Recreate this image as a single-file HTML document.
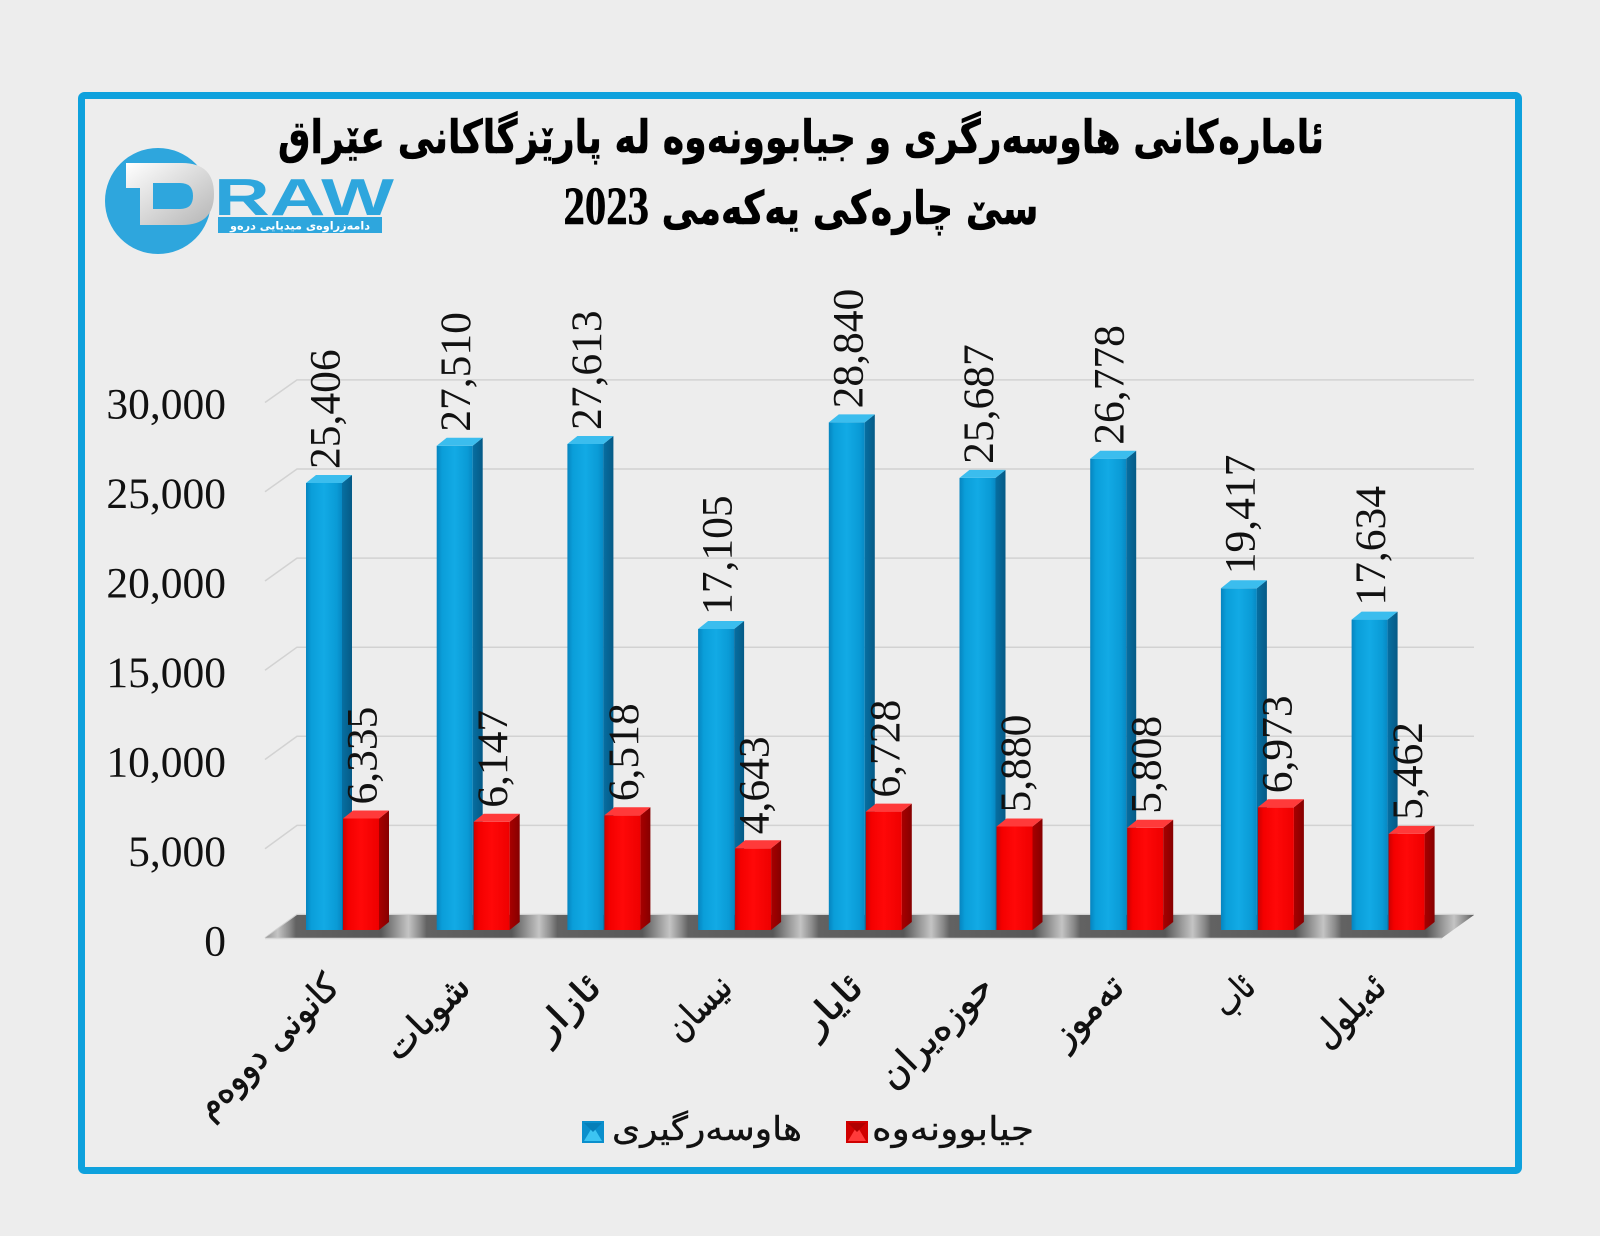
<!DOCTYPE html>
<html><head><meta charset="utf-8"><style>
html,body{margin:0;padding:0;background:#ededed;}
svg{display:block;}
</style></head><body>
<svg width="1600" height="1236" viewBox="0 0 1600 1236" xmlns="http://www.w3.org/2000/svg">
<defs>
<linearGradient id="bF" x1="0" x2="1" y1="0" y2="0"><stop offset="0" stop-color="#0684bf"/><stop offset="0.15" stop-color="#0a9ed9"/><stop offset="0.5" stop-color="#12aae5"/><stop offset="0.85" stop-color="#0a9bd6"/><stop offset="1" stop-color="#0788c3"/></linearGradient>
<linearGradient id="bS" x1="0" x2="1" y1="0" y2="0"><stop offset="0" stop-color="#076fa2"/><stop offset="1" stop-color="#055a86"/></linearGradient>
<linearGradient id="rF" x1="0" x2="1" y1="0" y2="0"><stop offset="0" stop-color="#cc0000"/><stop offset="0.15" stop-color="#f40000"/><stop offset="0.5" stop-color="#ff0808"/><stop offset="1" stop-color="#ee0000"/></linearGradient>
<linearGradient id="rS" x1="0" x2="1" y1="0" y2="0"><stop offset="0" stop-color="#a80000"/><stop offset="1" stop-color="#860000"/></linearGradient>
<linearGradient id="fl" gradientUnits="userSpaceOnUse" x1="296" y1="0" x2="426.7" y2="0" spreadMethod="repeat">
<stop offset="0" stop-color="#626262"/><stop offset="0.65" stop-color="#575757"/><stop offset="0.78" stop-color="#9c9c9c"/><stop offset="0.86" stop-color="#c4c4c4"/><stop offset="0.95" stop-color="#8a8a8a"/><stop offset="1" stop-color="#626262"/></linearGradient>
<linearGradient id="dG" x1="0" x2="1" y1="0" y2="1"><stop offset="0" stop-color="#ffffff"/><stop offset="1" stop-color="#b5b5b5"/></linearGradient>
</defs>
<rect width="1600" height="1236" fill="#ededed"/>
<rect x="81.5" y="95.5" width="1437" height="1075" rx="3" fill="#ededed" stroke="#0ea1dd" stroke-width="7"/>

<!-- logo -->
<circle cx="158" cy="201" r="53" fill="#2ea6dd"/>
<path d="M126,163 H182 Q214,163 214,194 Q214,225 182,225 H140 V188 H126 Z" fill="url(#dG)"/>
<path d="M153,183 H180 Q193,183 193,196 Q193,209 180,209 H153 Z" fill="#2ea6dd"/>
<text x="214" y="215" font-family="Liberation Sans" font-weight="bold" font-size="52" fill="#2ea6dd" textLength="180" lengthAdjust="spacingAndGlyphs">RAW</text>
<rect x="218" y="217" width="164" height="16" fill="#2ea6dd"/>
<text x="300" y="229.5" text-anchor="middle" font-family="DejaVu Sans" font-weight="bold" font-size="11" fill="#ffffff" textLength="140" lengthAdjust="spacingAndGlyphs">دامەزراوەی میدیایی درەو</text>

<!-- title -->
<text x="801" y="153" text-anchor="middle" font-family="DejaVu Sans" font-weight="bold" font-size="46" fill="#000" stroke="#000" stroke-width="0.6" textLength="1046" lengthAdjust="spacingAndGlyphs">ئامارەکانی هاوسەرگری و جیابوونەوە لە پارێزگاکانی عێراق</text>
<text x="801" y="224" text-anchor="middle" font-family="DejaVu Sans" font-weight="bold" font-size="46" fill="#000" stroke="#000" stroke-width="0.6" textLength="475" lengthAdjust="spacingAndGlyphs">سێ چارەکی یەکەمی <tspan font-family="Liberation Serif" font-size="54">2023</tspan></text>

<!-- gridlines -->
<g stroke="#d2d2d2" stroke-width="1.5" fill="none">
<polyline points="265,938 297,914.5 1474,914.5"/>
<polyline points="265,848.75 297,825.4 1474,825.4"/>
<polyline points="265,759.5 297,736.3 1474,736.3"/>
<polyline points="265,670.25 297,647.2 1474,647.2"/>
<polyline points="265,581 297,558.1 1474,558.1"/>
<polyline points="265,491.75 297,469 1474,469"/>
<polyline points="265,402.5 297,379.9 1474,379.9"/>
</g>

<!-- y labels -->
<g font-family="Liberation Serif" font-size="43.5" fill="#111" text-anchor="end">
<text x="226" y="418.5">30,000</text>
<text x="226" y="508">25,000</text>
<text x="226" y="597.5">20,000</text>
<text x="226" y="687">15,000</text>
<text x="226" y="776.5">10,000</text>
<text x="226" y="866">5,000</text>
<text x="226" y="955.5">0</text>
</g>

<!-- floor -->
<polygon points="265,938 1442,938 1474,915 297,915" fill="url(#fl)"/>
<line x1="265" y1="938.5" x2="1442" y2="938.5" stroke="#d8d8d8" stroke-width="1.5"/>

<!-- bars -->
<g id="bars">
<g transform="translate(306,0)">
<rect x="0" y="483" width="36" height="447" fill="url(#bF)"/><polygon points="36,483 46,475 46,922 36,930" fill="url(#bS)"/><polygon points="0,483 10,475 46,475 36,483" fill="#3bbdee"/>
<rect x="37" y="818.5" width="36" height="111.5" fill="url(#rF)"/><polygon points="73,818.5 83,810.5 83,922 73,930" fill="url(#rS)"/><polygon points="37,818.5 47,810.5 83,810.5 73,818.5" fill="#ff3a3a"/>
</g>
<g transform="translate(436.7,0)">
<rect x="0" y="445.8" width="36" height="484.2" fill="url(#bF)"/><polygon points="36,445.8 46,437.8 46,922 36,930" fill="url(#bS)"/><polygon points="0,445.8 10,437.8 46,437.8 36,445.8" fill="#3bbdee"/>
<rect x="37" y="821.8" width="36" height="108.2" fill="url(#rF)"/><polygon points="73,821.8 83,813.8 83,922 73,930" fill="url(#rS)"/><polygon points="37,821.8 47,813.8 83,813.8 73,821.8" fill="#ff3a3a"/>
</g>
<g transform="translate(567.4,0)">
<rect x="0" y="444" width="36" height="486" fill="url(#bF)"/><polygon points="36,444 46,436 46,922 36,930" fill="url(#bS)"/><polygon points="0,444 10,436 46,436 36,444" fill="#3bbdee"/>
<rect x="37" y="815.3" width="36" height="114.7" fill="url(#rF)"/><polygon points="73,815.3 83,807.3 83,922 73,930" fill="url(#rS)"/><polygon points="37,815.3 47,807.3 83,807.3 73,815.3" fill="#ff3a3a"/>
</g>
<g transform="translate(698.1,0)">
<rect x="0" y="629" width="36" height="301" fill="url(#bF)"/><polygon points="36,629 46,621 46,922 36,930" fill="url(#bS)"/><polygon points="0,629 10,621 46,621 36,629" fill="#3bbdee"/>
<rect x="37" y="848.3" width="36" height="81.7" fill="url(#rF)"/><polygon points="73,848.3 83,840.3 83,922 73,930" fill="url(#rS)"/><polygon points="37,848.3 47,840.3 83,840.3 73,848.3" fill="#ff3a3a"/>
</g>
<g transform="translate(828.8,0)">
<rect x="0" y="422.4" width="36" height="507.6" fill="url(#bF)"/><polygon points="36,422.4 46,414.4 46,922 36,930" fill="url(#bS)"/><polygon points="0,422.4 10,414.4 46,414.4 36,422.4" fill="#3bbdee"/>
<rect x="37" y="811.6" width="36" height="118.4" fill="url(#rF)"/><polygon points="73,811.6 83,803.6 83,922 73,930" fill="url(#rS)"/><polygon points="37,811.6 47,803.6 83,803.6 73,811.6" fill="#ff3a3a"/>
</g>
<g transform="translate(959.5,0)">
<rect x="0" y="477.9" width="36" height="452.1" fill="url(#bF)"/><polygon points="36,477.9 46,469.9 46,922 36,930" fill="url(#bS)"/><polygon points="0,477.9 10,469.9 46,469.9 36,477.9" fill="#3bbdee"/>
<rect x="37" y="826.5" width="36" height="103.5" fill="url(#rF)"/><polygon points="73,826.5 83,818.5 83,922 73,930" fill="url(#rS)"/><polygon points="37,826.5 47,818.5 83,818.5 73,826.5" fill="#ff3a3a"/>
</g>
<g transform="translate(1090.2,0)">
<rect x="0" y="458.7" width="36" height="471.3" fill="url(#bF)"/><polygon points="36,458.7 46,450.7 46,922 36,930" fill="url(#bS)"/><polygon points="0,458.7 10,450.7 46,450.7 36,458.7" fill="#3bbdee"/>
<rect x="37" y="827.8" width="36" height="102.2" fill="url(#rF)"/><polygon points="73,827.8 83,819.8 83,922 73,930" fill="url(#rS)"/><polygon points="37,827.8 47,819.8 83,819.8 73,827.8" fill="#ff3a3a"/>
</g>
<g transform="translate(1220.9,0)">
<rect x="0" y="588.3" width="36" height="341.7" fill="url(#bF)"/><polygon points="36,588.3 46,580.3 46,922 36,930" fill="url(#bS)"/><polygon points="0,588.3 10,580.3 46,580.3 36,588.3" fill="#3bbdee"/>
<rect x="37" y="807.3" width="36" height="122.7" fill="url(#rF)"/><polygon points="73,807.3 83,799.3 83,922 73,930" fill="url(#rS)"/><polygon points="37,807.3 47,799.3 83,799.3 73,807.3" fill="#ff3a3a"/>
</g>
<g transform="translate(1351.6,0)">
<rect x="0" y="619.6" width="36" height="310.4" fill="url(#bF)"/><polygon points="36,619.6 46,611.6 46,922 36,930" fill="url(#bS)"/><polygon points="0,619.6 10,611.6 46,611.6 36,619.6" fill="#3bbdee"/>
<rect x="37" y="833.9" width="36" height="96.1" fill="url(#rF)"/><polygon points="73,833.9 83,825.9 83,922 73,930" fill="url(#rS)"/><polygon points="37,833.9 47,825.9 83,825.9 73,833.9" fill="#ff3a3a"/>
</g>
</g>

<!-- data labels -->
<g font-family="Liberation Serif" font-size="43.5" fill="#111">
<text transform="translate(339.5,469) rotate(-90)">25,406</text>
<text transform="translate(376.5,804.5) rotate(-90)">6,335</text>
<text transform="translate(470.2,431.8) rotate(-90)">27,510</text>
<text transform="translate(507.2,807.8) rotate(-90)">6,147</text>
<text transform="translate(600.9,430) rotate(-90)">27,613</text>
<text transform="translate(637.9,801.3) rotate(-90)">6,518</text>
<text transform="translate(731.6,615) rotate(-90)">17,105</text>
<text transform="translate(768.6,834.3) rotate(-90)">4,643</text>
<text transform="translate(862.3,408.4) rotate(-90)">28,840</text>
<text transform="translate(899.3,797.6) rotate(-90)">6,728</text>
<text transform="translate(993,463.9) rotate(-90)">25,687</text>
<text transform="translate(1030,812.5) rotate(-90)">5,880</text>
<text transform="translate(1123.7,444.7) rotate(-90)">26,778</text>
<text transform="translate(1160.7,813.8) rotate(-90)">5,808</text>
<text transform="translate(1254.4,574.3) rotate(-90)">19,417</text>
<text transform="translate(1291.4,793.3) rotate(-90)">6,973</text>
<text transform="translate(1385.1,605.6) rotate(-90)">17,634</text>
<text transform="translate(1422.1,819.9) rotate(-90)">5,462</text>
</g>

<!-- category labels -->
<g font-family="DejaVu Sans" font-size="36" fill="#111" stroke="#111" stroke-width="0.7" text-anchor="end" dominant-baseline="central">
<text transform="translate(333,981) rotate(-45)" textLength="186" lengthAdjust="spacingAndGlyphs">کانونی دووەم</text>
<text transform="translate(464,981) rotate(-45)" textLength="104" lengthAdjust="spacingAndGlyphs">شوبات</text>
<text transform="translate(595,981) rotate(-45)" textLength="78" lengthAdjust="spacingAndGlyphs">ئازار</text>
<text transform="translate(726,981) rotate(-45)" textLength="76" lengthAdjust="spacingAndGlyphs">نیسان</text>
<text transform="translate(857,981) rotate(-45)" textLength="70" lengthAdjust="spacingAndGlyphs">ئایار</text>
<text transform="translate(987,981) rotate(-45)" textLength="144" lengthAdjust="spacingAndGlyphs">حوزەیران</text>
<text transform="translate(1118,981) rotate(-45)" textLength="86" lengthAdjust="spacingAndGlyphs">تەموز</text>
<text transform="translate(1249,981) rotate(-45)" textLength="42" lengthAdjust="spacingAndGlyphs">ئاب</text>
<text transform="translate(1380,981) rotate(-45)" textLength="86" lengthAdjust="spacingAndGlyphs">ئەیلول</text>
</g>

<!-- legend -->
<rect x="582" y="1121" width="22" height="22" fill="#0a8fcc"/>
<polygon points="584,1141 593,1126 602,1141" fill="#3cc4f2"/>
<polygon points="584,1123 593,1132 602,1123" fill="#067fb8"/>
<text x="612" y="1140" font-family="DejaVu Sans" font-size="33" fill="#111" stroke="#111" stroke-width="0.4" textLength="190" lengthAdjust="spacingAndGlyphs">هاوسەرگیری</text>
<rect x="846" y="1121" width="22" height="22" fill="#d00000"/>
<polygon points="848,1141 857,1126 866,1141" fill="#ff3a3a"/>
<polygon points="848,1123 857,1132 866,1123" fill="#b00000"/>
<text x="872" y="1140" font-family="DejaVu Sans" font-size="33" fill="#111" stroke="#111" stroke-width="0.4" textLength="162" lengthAdjust="spacingAndGlyphs">جیابوونەوە</text>
</svg>
</body></html>
